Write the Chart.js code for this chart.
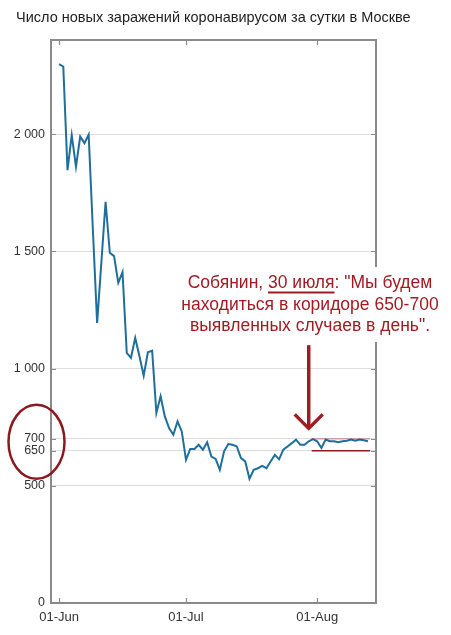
<!DOCTYPE html>
<html>
<head>
<meta charset="utf-8">
<script src="https://cdn.jsdelivr.net/npm/chart.js@4/dist/chart.umd.min.js"></script>
<style>
  html, body { margin: 0; padding: 0; background: #fff; }
  #wrap { width: 451px; height: 635px; position: relative; }
</style>
</head>
<body>
<div id="wrap"><canvas id="c" width="451" height="635"></canvas></div>
<script>
// ---- data ----
const titleText = 'Число новых заражений коронавирусом за сутки в Москве';
const startDate = '01-Jun'; // day index 0 = 1 June
const dailyCases = [
  2299, 2289, 1847, 1996, 1862, 1990, 1962, 1998, 1590, 1195,
  1453, 1712, 1494, 1480, 1366, 1412, 1067, 1046, 1131, 1053,
  970, 1070, 1077, 811, 882, 796, 746, 718, 775, 732,
  611, 657, 657, 675, 654, 686, 625, 615, 568, 647,
  678, 675, 668, 618, 604, 530, 568, 575, 585, 575,
  604, 632, 613, 654, 668, 682, 697, 675, 675, 690,
  699, 690, 661, 697, 690, 690, 686, 690, 692, 697,
  692, 697, 694, 690
];
const xTickValues = [0, 30, 61];
const xTickLabels = ['01-Jun', '01-Jul', '01-Aug'];
const yTickValues = [0, 500, 650, 700, 1000, 1500, 2000];
const yTickLabels = ['0', '500', '650', '700', '1 000', '1 500', '2 000'];
const corridorValues = [650, 700];
const corridorDays = [59.7, 73.5];
const arrowDay = 59;          // 30 July
const arrowValues = [1100, 745];
const noteLines = ['Собянин, 30 июля: "Мы будем', 'находиться в коридоре 650-700', 'выявленных случаев в день".'];
const noteUnderlined = '30 июля';

const points = dailyCases.map((v, i) => ({ x: i, y: v }));

const FONT = '"Liberation Sans", Arial, sans-serif';
const AXIS_COLOR = '#8a8a8a';
const RED = '#a01c22';

const decor = {
  id: 'decor',
  afterDraw(chart) {
    const ctx = chart.ctx;
    const a = chart.chartArea;
    const xs = chart.scales.x, ys = chart.scales.y;
    ctx.save();
    // title
    ctx.fillStyle = '#222';
    ctx.font = '14.5px ' + FONT;
    ctx.textAlign = 'left';
    ctx.textBaseline = 'middle';
    ctx.fillText(titleText, 16, 18);

    // frame box
    ctx.strokeStyle = AXIS_COLOR;
    ctx.lineWidth = 2;
    ctx.strokeRect(a.left, a.top, a.right - a.left, a.bottom - a.top);
    // inward ticks
    ctx.lineWidth = 1.2;
    ctx.beginPath();
    yTickValues.forEach(v => {
      const y = Math.round(ys.getPixelForValue(v)) + 0.5;
      ctx.moveTo(a.left, y); ctx.lineTo(a.left + 5, y);
      ctx.moveTo(a.right, y); ctx.lineTo(a.right - 5, y);
    });
    xTickValues.forEach(v => {
      const x = Math.round(xs.getPixelForValue(v)) + 0.5;
      ctx.moveTo(x, a.bottom); ctx.lineTo(x, a.bottom - 5);
      ctx.moveTo(x, a.top); ctx.lineTo(x, a.top + 5);
    });
    ctx.stroke();

    // corridor lines
    const cx0 = xs.getPixelForValue(corridorDays[0]);
    const cx1 = xs.getPixelForValue(corridorDays[1]);
    ctx.lineWidth = 1.5;
    ctx.strokeStyle = '#8e1b22';
    let yy = ys.getPixelForValue(corridorValues[0]);
    ctx.beginPath(); ctx.moveTo(cx0, yy); ctx.lineTo(cx1, yy); ctx.stroke();
    ctx.strokeStyle = 'rgba(160,40,50,0.45)';
    ctx.lineWidth = 1.2;
    yy = ys.getPixelForValue(corridorValues[1]);
    ctx.beginPath(); ctx.moveTo(cx0, yy); ctx.lineTo(cx1, yy); ctx.stroke();

    // ellipse around 650/700 labels
    const eY = (ys.getPixelForValue(corridorValues[0]) + ys.getPixelForValue(corridorValues[1])) / 2;
    ctx.strokeStyle = '#8b1a20';
    ctx.lineWidth = 2.5;
    ctx.beginPath();
    ctx.ellipse(a.left - 14.5, eY - 3, 28, 37, 0, 0, Math.PI * 2);
    ctx.stroke();

    // arrow
    const ax = xs.getPixelForValue(arrowDay);
    const ay0 = ys.getPixelForValue(arrowValues[0]);
    const ay1 = ys.getPixelForValue(arrowValues[1]);
    ctx.strokeStyle = RED;
    ctx.lineWidth = 3.5;
    ctx.lineCap = 'butt';
    ctx.beginPath(); ctx.moveTo(ax, ay0); ctx.lineTo(ax, ay1 - 2); ctx.stroke();
    ctx.lineJoin = 'miter';
    ctx.beginPath();
    ctx.moveTo(ax - 14, ay1 - 14); ctx.lineTo(ax, ay1); ctx.lineTo(ax + 14, ay1 - 14);
    ctx.stroke();

    // note text on white backing
    ctx.font = '17.5px ' + FONT;
    const tx = 310;
    const lineYs = [283, 305, 326];
    let maxW = 0;
    noteLines.forEach(t => { maxW = Math.max(maxW, ctx.measureText(t).width); });
    ctx.fillStyle = '#ffffff';
    ctx.fillRect(tx - maxW / 2 - 6, lineYs[0] - 16, maxW + 12, lineYs[2] - lineYs[0] + 32);
    ctx.fillStyle = RED;
    ctx.textAlign = 'center';
    ctx.textBaseline = 'middle';
    noteLines.forEach((t, i) => ctx.fillText(t, tx, lineYs[i]));
    // underline
    const full = ctx.measureText(noteLines[0]).width;
    const idx = noteLines[0].indexOf(noteUnderlined);
    const pre = ctx.measureText(noteLines[0].slice(0, idx)).width;
    const uw = ctx.measureText(noteUnderlined).width;
    const ux = tx - full / 2 + pre;
    ctx.strokeStyle = RED;
    ctx.lineWidth = 1.8;
    ctx.beginPath(); ctx.moveTo(ux, lineYs[0] + 9.5); ctx.lineTo(ux + uw, lineYs[0] + 9.5); ctx.stroke();
    ctx.restore();
  }
};

new Chart(document.getElementById('c'), {
  type: 'line',
  data: {
    datasets: [{
      data: points,
      borderColor: '#1f6e9b',
      borderWidth: 2,
      pointRadius: 0,
      tension: 0,
      fill: false
    }]
  },
  options: {
    responsive: false,
    animation: false,
    devicePixelRatio: 1,
    layout: { padding: { top: 40, left: 0, right: 75, bottom: 0 } },
    plugins: { legend: { display: false }, tooltip: { enabled: false }, title: { display: false } },
    scales: {
      x: {
        type: 'linear',
        min: -1.9,
        max: 74.9,
        afterFit(s) { s.height = 32; },
        afterBuildTicks(s) { s.ticks = xTickValues.map(v => ({ value: v })); },
        grid: { display: false, drawTicks: false },
        border: { display: false },
        ticks: {
          padding: 7,
          color: '#333',
          font: { family: FONT, size: 13 },
          maxRotation: 0,
          autoSkip: false,
          callback: (v) => xTickLabels[xTickValues.indexOf(v)]
        }
      },
      y: {
        type: 'linear',
        min: 0,
        max: 2402,
        afterFit(s) { s.width = 51; },
        afterBuildTicks(s) { s.ticks = yTickValues.map(v => ({ value: v })); },
        grid: {
          drawTicks: false,
          color: (c) => (c.tick && c.tick.value === 0) ? 'rgba(0,0,0,0)' : '#dedede',
          lineWidth: 1
        },
        border: { display: false },
        ticks: {
          padding: 6,
          color: '#333',
          font: { family: FONT, size: 12.5 },
          autoSkip: false,
          callback: (v) => yTickLabels[yTickValues.indexOf(v)]
        }
      }
    }
  },
  plugins: [decor]
});
</script>
</body>
</html>
